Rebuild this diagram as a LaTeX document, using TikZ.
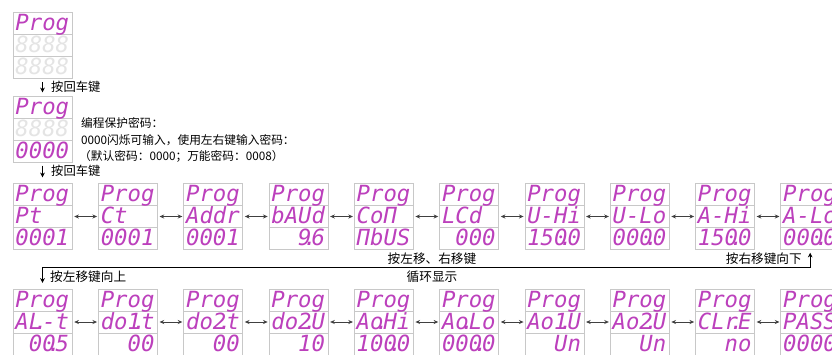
\documentclass[tikz,border=0pt]{standalone}
\usepackage{fontspec}
\setmainfont{Liberation Sans}
\newfontfamily\cjk{Noto Sans CJK SC}
\newfontfamily\lcdfont{DejaVu Sans Mono}
\usetikzlibrary{arrows.meta,calc}

\definecolor{lcdpink}{RGB}{188,64,188}
\definecolor{lcdframe}{RGB}{200,200,200}
\definecolor{lcdghost}{RGB}{228,228,228}

\newcommand\dotr{\rlap{\kern-0.36em.}}
\newcommand\ghost[1]{\textcolor{lcdghost}{#1}}

\tikzset{
  panel/.style={draw=lcdframe, fill=white, minimum width=1.77cm, minimum height=1.98cm, inner sep=0pt},
  lcd/.style={text=lcdpink, font=\lcdfont\itshape\fontsize{19}{19}\selectfont, inner sep=0pt, anchor=base west},
  note/.style={font=\cjk\fontsize{10}{12}\selectfont, inner sep=0pt},
  keytext/.style={font=\cjk\fontsize{10.8}{12}\selectfont, inner sep=0pt},
  dbl/.style={{Stealth[length=4pt,width=3.5pt]}-{Stealth[length=4pt,width=3.5pt]}, line width=0.8pt, black!75, shorten <=0.06cm, shorten >=0.03cm},
  down/.style={-{Stealth[length=4pt,width=4pt]}, line width=0.8pt}
}

% one display: name, position, three rows
\newcommand\lcdpanel[5]{%
  \node[panel] (#1) at (#2) {};
  \draw[lcdframe] ($(#1.north west)+(0,22)$) -- ++(59,0) ($(#1.north west)+(0,44)$) -- ++(59,0);
  \node[lcd] (#1-a) at ($(#1.north west)+(2.5,18.5)$) {#3};
  \node[lcd] (#1-b) at ($(#1.north west)+(2.5,40.5)$) {#4};
  \node[lcd] (#1-c) at ($(#1.north west)+(2.5,62.5)$) {#5};
}

\begin{document}
\begin{tikzpicture}[x=0.03cm,y=-0.03cm]
  \useasboundingbox (0,0) rectangle (832,354);
  \clip (0,0) rectangle (832,354);

  % entry
  \lcdpanel{t1}{42.5,45}{Prog}{\ghost{8888}}{\ghost{8888}}
  \lcdpanel{t2}{42.5,129.5}{Prog}{\ghost{8888}}{0000}
  \draw[down, shorten <=0.12cm, shorten >=0.12cm] (t1) -- (t2);
  \node[keytext, anchor=west, font=\cjk\fontsize{10.5}{12}\selectfont] (enter1) at (51,87) {按回车键};
  \node[note, anchor=west] (pw1) at (81,123) {编程保护密码：};
  \node[note, anchor=west] (pw2) at (81,140) {0000闪烁可输入，使用左右键输入密码：};
  \node[note, anchor=west] (pw3) at (79,156) {（默认密码：0000；万能密码：0008）};

  % first row
  \foreach \i/\midtxt/\bottxt in {1/Pt~~/0001, 2/Ct~~/0001, 3/Addr/0001, 4/bAUd/~~9\dotr6,
      5/CoΠ~/ΠbUS, 6/LCd~/~000, 7/U-Hi/150\dotr0, 8/U-Lo/000\dotr0, 9/A-Hi/150\dotr0, 10/A-Lo/000\dotr0}{
    \lcdpanel{a\i}{{42.5+85.3*(\i-1)},216.5}{Prog}{\midtxt}{\bottxt}
  }
  \draw[down, shorten <=0.09cm, shorten >=0.18cm] (t2) -- (a1);
  \node[keytext, anchor=west, font=\cjk\fontsize{10.5}{12}\selectfont] (enter2) at (51,171) {按回车键};

  % second row
  \foreach \i/\midtxt/\bottxt in {1/AL\dotr-t/~00\dotr5, 2/do1\dotr t/~~00, 3/do2\dotr t/~~00, 4/do2\dotr U/~~10,
      5/Ao\dotr Hi/100\dotr0, 6/Ao\dotr Lo/000\dotr0, 7/Ao1\dotr U/~~Un, 8/Ao2\dotr U/~~Un, 9/CLr\dotr E/~~no, 10/PASS/0000}{
    \lcdpanel{b\i}{{42.5+85.3*(\i-1)},322}{Prog}{\midtxt}{\bottxt}
  }

  \foreach \i [count=\j from 2] in {1,...,9}{
    \draw[dbl] (a\i) -- (a\j);
    \draw[dbl] (b\i) -- (b\j);
  }

  % loop back
  \coordinate (loop) at (0,267);
  \draw[down, {Stealth[length=4pt,width=4pt]}-{Stealth[length=4pt,width=4pt]}, shorten <=0.09cm, shorten >=0.18cm]
    (a10.south) |- (b1.north |- loop) -- (b1.north);
  \node[keytext, anchor=east] (rdown) at (802,259) {按右移键向下};
  \node[keytext] (cyc1) at (432,259) {按左移、右移键};
  \node[keytext] (cyc2) at (432,277) {循环显示};
  \node[keytext, anchor=west] (lup) at (50,277) {按左移键向上};
\end{tikzpicture}
\end{document}
